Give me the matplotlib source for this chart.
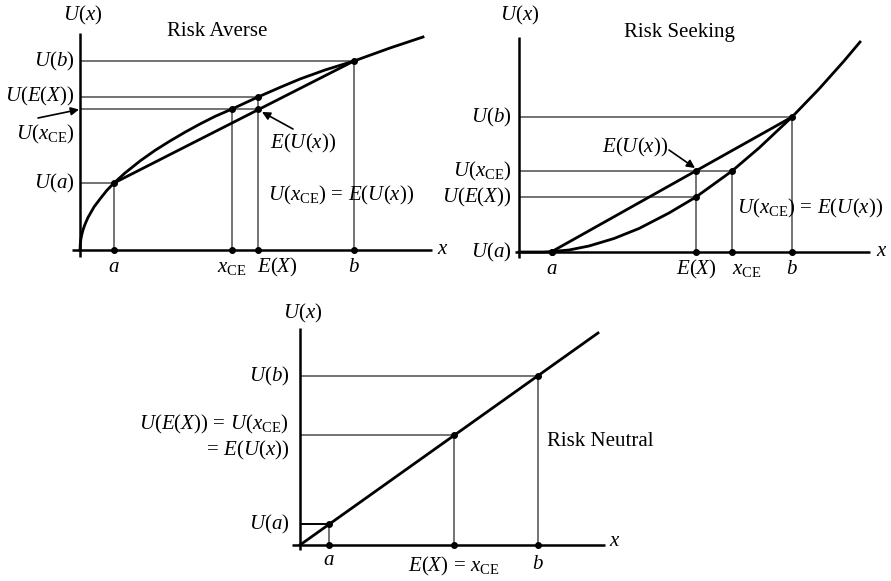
import matplotlib
matplotlib.use("Agg")
import matplotlib.pyplot as plt

plt.rcParams["font.family"] = "Liberation Serif"
plt.rcParams["mathtext.fontset"] = "custom"
plt.rcParams["mathtext.rm"] = "Liberation Serif"
plt.rcParams["mathtext.it"] = "Liberation Serif:italic"

W, H = 891, 581
FS = 15
GRAY = "#737373"

# --- Risk averse (concave utility) ---
averse_x = [0, 0.3, 1, 2, 3, 4.5, 6, 8, 10, 14, 20, 27, 34, 45, 60, 75, 90, 105,
            120, 135, 152, 178, 200, 220, 245, 274, 310, 343]
averse_u = [0, 6.3, 11.5, 16.3, 20, 24.4, 28, 32.5, 36, 43, 51, 59.8, 67, 77, 89,
            99.6, 109, 117.8, 126, 133.6, 141, 153, 162.6, 171, 180, 189, 202, 213]
averse_pts = {"a": 34, "xce": 152, "ex": 178, "b": 274}
averse_vals = {"a": 67, "xce": 141, "ex": 153, "b": 189}

# --- Risk seeking (convex utility) ---
seeking_x = [0, 25, 33, 50, 70, 95, 120, 150, 177, 213, 240, 273, 300, 325, 341]
seeking_u = [0, 0, 0.5, 2, 6, 13.5, 23.5, 39, 55, 81, 104, 135, 163, 191, 210]
seeking_pts = {"a": 33, "ex": 177, "xce": 213, "b": 273}
seeking_vals = {"a": 0.5, "ex": 55, "xce": 81, "b": 135}

# --- Risk neutral (linear utility) ---
neutral_x = [0, 298]
neutral_u = [0, 212]
neutral_pts = {"a": 29, "ex": 154, "b": 238}
neutral_vals = {"a": 21, "ex": 110, "b": 169}

fig = plt.figure(figsize=(W / 100, H / 100), dpi=100)


def panel(ox, oy, left, top, right, bottom):
    # one data unit = one pixel, origin at the axis crossing
    ax = fig.add_axes([left / W, 1 - bottom / H, (right - left) / W, (bottom - top) / H])
    ax.set_xlim(left - ox, right - ox)
    ax.set_ylim(oy - bottom, oy - top)
    ax.axis("off")
    return ax


def axes_lines(ax, x0, x1, y0, y1):
    ax.plot([x0, x1], [0, 0], color="black", lw=1.8, solid_capstyle="butt")
    ax.plot([0, 0], [y0, y1], color="black", lw=1.8, solid_capstyle="butt")


def guide(ax, xs, ys, color=GRAY):
    ax.plot(xs, ys, color=color, lw=1.4, solid_capstyle="butt", zorder=1)


def dots(ax, xs, ys):
    ax.plot(xs, ys, "o", color="black", ms=4, zorder=5)


def txt(ax, x, y, s, **kw):
    kw.setdefault("ha", "center")
    kw.setdefault("va", "center")
    ax.text(x, y, s, fontsize=FS, clip_on=False, **kw)


def arrow(ax, tail, head):
    ax.annotate("", xy=head, xytext=tail,
                arrowprops=dict(arrowstyle="-|>", color="black", lw=1.2,
                                mutation_scale=12, shrinkA=0, shrinkB=0))


# ================= Risk Averse =================
ax1 = panel(80, 250, 0, 0, 445, 290)
p, u = averse_pts, averse_vals
axes_lines(ax1, -8, 352, -7, 217)
guide(ax1, [0, p["b"], p["b"]], [u["b"], u["b"], 0])
guide(ax1, [0, p["ex"], p["ex"]], [u["ex"], u["ex"], 0])
eu1 = u["xce"]
guide(ax1, [0, p["ex"]], [eu1, eu1])
guide(ax1, [p["xce"], p["xce"]], [eu1, 0])
guide(ax1, [0, p["a"], p["a"]], [u["a"], u["a"], 0])
ax1.plot(averse_x, averse_u, color="black", lw=2, zorder=3)
ax1.plot([p["a"], p["b"]], [u["a"], u["b"]], color="black", lw=2, zorder=3)
dots(ax1, [p["a"], p["xce"], p["ex"], p["ex"], p["b"]],
     [u["a"], u["xce"], u["ex"], eu1, u["b"]])
dots(ax1, [p["a"], p["xce"], p["ex"], p["b"]], [0, 0, 0, 0])

txt(ax1, 3, 235, r"$U(x)$")
txt(ax1, 137, 218, "Risk Averse")
txt(ax1, -6, u["b"], r"$U(b)$", ha="right")
txt(ax1, -6, u["ex"] + 1, r"$U(E(X))$", ha="right")
txt(ax1, -6, 116, r"$U(x_{\mathrm{CE}})$", ha="right")
arrow(ax1, (-42, 132), (-1, eu1 - 0.5))
txt(ax1, -6, u["a"], r"$U(a)$", ha="right")
txt(ax1, 190, 107, r"$E(U(x))$", ha="left")
arrow(ax1, (213, 121), (182, 138))
txt(ax1, 188, 55, r"$U(x_{\mathrm{CE}})\,=\,E(U(x))$", ha="left")
txt(ax1, p["a"], -22, r"$a$", va="baseline")
txt(ax1, p["xce"], -22, r"$x_{\mathrm{CE}}$", va="baseline")
txt(ax1, p["ex"] - 1, -22, r"$E(X)$", ha="left", va="baseline")
txt(ax1, p["b"], -22, r"$b$", va="baseline")
txt(ax1, 363, 0, r"$x$")

# ================= Risk Seeking =================
ax2 = panel(519, 252, 445, 0, 891, 290)
p, u = seeking_pts, seeking_vals
axes_lines(ax2, -4, 351, -6, 215)
guide(ax2, [0, p["b"], p["b"]], [u["b"], u["b"], 0])
eu2 = u["xce"]
guide(ax2, [0, p["xce"], p["xce"]], [eu2, eu2, 0])
guide(ax2, [0, p["ex"]], [u["ex"], u["ex"]])
guide(ax2, [p["ex"], p["ex"]], [eu2, 0])
ax2.plot(seeking_x, seeking_u, color="black", lw=2, zorder=3)
ax2.plot([p["a"], p["b"]], [u["a"], u["b"]], color="black", lw=2, zorder=3)
dots(ax2, [p["a"], p["ex"], p["ex"], p["xce"], p["b"]],
     [u["a"], u["ex"], eu2, u["xce"], u["b"]])
dots(ax2, [p["a"], p["ex"], p["xce"], p["b"]], [0, 0, 0, 0])

txt(ax2, 1, 237, r"$U(x)$")
txt(ax2, 160, 220, "Risk Seeking")
txt(ax2, -8, u["b"], r"$U(b)$", ha="right")
txt(ax2, -8, eu2, r"$U(x_{\mathrm{CE}})$", ha="right")
txt(ax2, -8, u["ex"], r"$U(E(X))$", ha="right")
txt(ax2, -8, 0, r"$U(a)$", ha="right")
txt(ax2, 116, 105, r"$E(U(x))$")
arrow(ax2, (150, 102), (176, 84))
txt(ax2, 218, 44, r"$U(x_{\mathrm{CE}})\,=\,E(U(x))$", ha="left")
txt(ax2, p["a"], -22, r"$a$", va="baseline")
txt(ax2, p["ex"], -22, r"$E(X)$", va="baseline")
txt(ax2, p["xce"], -22, r"$x_{\mathrm{CE}}$", ha="left", va="baseline")
txt(ax2, p["b"], -22, r"$b$", va="baseline")
txt(ax2, 363, 0, r"$x$")

# ================= Risk Neutral =================
ax3 = panel(300, 545, 150, 290, 750, 581)
p, u = neutral_pts, neutral_vals
axes_lines(ax3, -8, 305, -5, 217)
guide(ax3, [0, p["a"]], [u["a"], u["a"]], color="black")
guide(ax3, [p["a"], p["a"]], [u["a"], 0])
guide(ax3, [0, p["ex"], p["ex"]], [u["ex"], u["ex"], 0])
guide(ax3, [0, p["b"], p["b"]], [u["b"], u["b"], 0])
ax3.plot(neutral_x, neutral_u, color="black", lw=2, zorder=3)
dots(ax3, [p["a"], p["ex"], p["b"]], [u["a"], u["ex"], u["b"]])
dots(ax3, [p["a"], p["ex"], p["b"]], [0, 0, 0])

txt(ax3, 3, 232, r"$U(x)$")
txt(ax3, -11, u["b"], r"$U(b)$", ha="right")
txt(ax3, -11, 121, r"$U(E(X))\,=\,U(x_{\mathrm{CE}})$", ha="right")
txt(ax3, -11, 95, r"$=\,E(U(x))$", ha="right")
txt(ax3, -11, u["a"], r"$U(a)$", ha="right")
txt(ax3, 300, 104, "Risk Neutral")
txt(ax3, p["a"], -20, r"$a$", va="baseline")
txt(ax3, p["ex"], -26, r"$E(X)\,=\,x_{\mathrm{CE}}$", va="baseline")
txt(ax3, p["b"], -24, r"$b$", va="baseline")
txt(ax3, 315, 3, r"$x$")

fig.savefig("out.png", dpi=100)
